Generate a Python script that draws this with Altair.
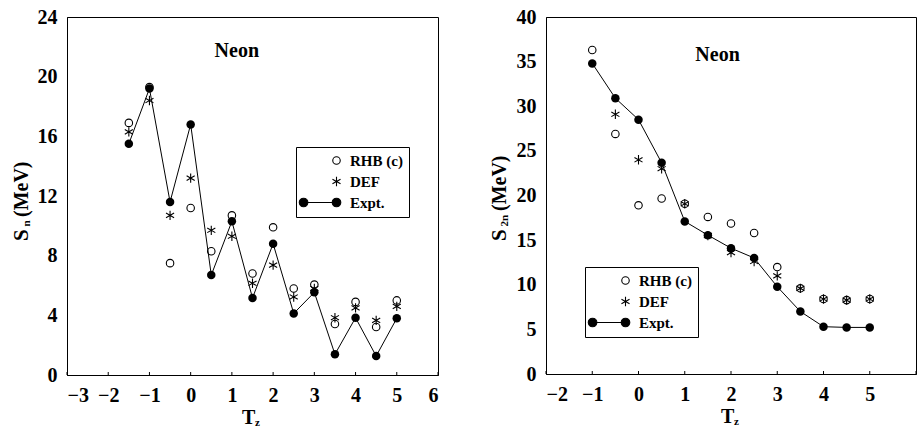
import altair as alt
import pandas as pd

FONT = "Liberation Serif"

# ---------------- data ----------------
SERIES = ["RHB (c)", "DEF", "Expt."]

tz_left = [-1.5, -1, -0.5, 0, 0.5, 1, 1.5, 2, 2.5, 3, 3.5, 4, 4.5, 5]
sn_rhb = [16.9, 19.3, 7.5, 11.2, 8.3, 10.7, 6.8, 9.9, 5.8, 6.06, 3.42, 4.9, 3.22, 5.0]
sn_def = [16.3, 18.4, 10.7, 13.2, 9.7, 9.3, 6.15, 7.37, 5.23, 5.8, 3.84, 4.5, 3.66, 4.6]
sn_exp = [15.5, 19.2, 11.6, 16.8, 6.7, 10.3, 5.16, 8.8, 4.13, 5.54, 1.39, 3.84, 1.27, 3.8]

tz_right = [-1, -0.5, 0, 0.5, 1, 1.5, 2, 2.5, 3, 3.5, 4, 4.5, 5]
s2n_rhb = [36.3, 26.9, 18.9, 19.66, 19.07, 17.6, 16.87, 15.8, 11.98, 9.6, 8.4, 8.28, 8.4]
s2n_def = [None, 29.1, 24.0, 23.0, 19.07, 15.5, 13.6, 12.6, 11.0, 9.6, 8.4, 8.28, 8.4]
s2n_exp = [34.8, 30.9, 28.5, 23.66, 17.1, 15.56, 14.1, 13.0, 9.78, 7.0, 5.3, 5.22, 5.22]

left_xticks = [-3, -2, -1, 0, 1, 2, 3, 4, 5, 6]
left_yticks = [0, 4, 8, 12, 16, 20, 24]
right_xticks = [-2, -1, 0, 1, 2, 3, 4, 5, 6]
right_xlabels = [-2, -1, 0, 1, 2, 3, 4, 5]
right_yticks = [0, 5, 10, 15, 20, 25, 30, 35, 40]

# ---------------- symbols ----------------
STAR = "M0,-1.25L0,1.25M-1.08,-0.625L1.08,0.625M-1.08,0.625L1.08,-0.625"
EXPT_LEG = ("M-8.8,0L0,0"
            "M1.15,0A1.15,1.15,0,1,1,-1.15,0A1.15,1.15,0,1,1,1.15,0Z"
            "M-7.65,0A1.15,1.15,0,1,1,-9.95,0A1.15,1.15,0,1,1,-7.65,0Z")


def long_df(t, rhb, dfv, exp):
    rows = []
    for s, vals in zip(SERIES, (rhb, dfv, exp)):
        for ti, vi in zip(t, vals):
            if vi is not None:
                rows.append({"T": ti, "v": vi, "series": s})
    return pd.DataFrame(rows)


def txt(s, x, y, size, angle=0):
    return alt.Chart(pd.DataFrame({"s": [s]})).mark_text(
        align="left", baseline="alphabetic", font=FONT, fontSize=size,
        fontWeight="bold", color="black", angle=angle
    ).encode(x=alt.value(x), y=alt.value(y), text="s:N")


def panel(t, rhb, dfv, exp, xdom, xticks, xlabels, ydom, yticks, w, h,
          neon, legxy, ysub):
    df = long_df(t, rhb, dfv, exp)
    dexp = pd.DataFrame({"T": t, "v": exp})
    xs = alt.Scale(domain=xdom, nice=False, zero=False)
    ys = alt.Scale(domain=ydom, nice=False, zero=False)
    xax = alt.Axis(values=xlabels, format="d", labelPadding=10)
    yax = alt.Axis(values=yticks, format="d", labelPadding=10)
    leg = alt.Legend(
        orient="none", legendX=legxy[0], legendY=legxy[1], title=None,
        strokeColor="black", fillColor="white", padding=6, rowPadding=5,
        labelFont=FONT, labelFontSize=15, labelFontWeight="bold",
        labelColor="black", labelOffset=6, symbolOffset=27,
        symbolFillColor="white",
        symbolStrokeColor="black", symbolStrokeWidth=1.1, symbolSize=56,
    )
    pts = alt.Chart(df).mark_point(size=56, stroke="black", strokeWidth=1.1).encode(
        x=alt.X("T:Q", scale=xs, axis=xax, title=None),
        y=alt.Y("v:Q", scale=ys, axis=yax, title=None),
        shape=alt.Shape("series:N", sort=SERIES,
                        scale=alt.Scale(domain=SERIES, range=["circle", STAR, EXPT_LEG]),
                        legend=leg),
        fill=alt.Fill("series:N", sort=SERIES,
                      scale=alt.Scale(domain=SERIES, range=["transparent", "transparent", "black"]),
                      legend=leg),
        opacity=alt.condition(alt.datum.series == "Expt.", alt.value(0), alt.value(1)),
    )
    line = alt.Chart(dexp).mark_line(color="black", strokeWidth=1).encode(
        x=alt.X("T:Q", scale=xs), y=alt.Y("v:Q", scale=ys))
    dots = alt.Chart(dexp).mark_circle(size=72, color="black", opacity=1).encode(
        x=alt.X("T:Q", scale=xs), y=alt.Y("v:Q", scale=ys))
    ticks = alt.Chart(pd.DataFrame({"T": xticks})).mark_rule(color="black", strokeWidth=1).encode(
        x=alt.X("T:Q", scale=xs), y=alt.value(h), y2=alt.value(h - 3))
    neon_t = alt.Chart(pd.DataFrame({"T": [neon[0]], "v": [neon[1]], "s": ["Neon"]})).mark_text(
        align="center", baseline="middle", font=FONT, fontSize=20, fontWeight="bold", color="black"
    ).encode(x=alt.X("T:Q", scale=xs), y=alt.Y("v:Q", scale=ys), text="s:N")
    # axis titles with subscripts
    titles = [
        txt("T", 175, h + 49, 20),
        txt("z", 188, h + 51, 11),
        txt("S", ysub["sx"], 224, 21, 270),
        txt(ysub["sub"], ysub["sx"] + 1.5, 224 - 14.5, 11, 270),
        txt("(MeV)", ysub["sx"], ysub["mev_y"], 20, 270),
    ]
    return alt.layer(ticks, pts, line, dots, neon_t, *titles).properties(width=w, height=h)


left = panel(tz_left, sn_rhb, sn_def, sn_exp, [-3, 6], left_xticks, left_xticks,
             [0, 24], left_yticks, 371, 358, (1.12, 21.7), (229, 130),
             {"sx": -39, "sub": "n", "mev_y": 200})
right = panel(tz_right, s2n_rhb, s2n_def, s2n_exp, [-2, 6], right_xticks, right_xlabels,
              [0, 40], right_yticks, 370, 357, (1.71, 35.7), (39, 250),
              {"sx": -40, "sub": "2n", "mev_y": 194})

chart = alt.hconcat(left, right, spacing=49, background="white").resolve_scale(
    x="independent", y="independent", shape="independent", fill="independent"
).resolve_legend(shape="independent", fill="independent").properties(
    padding={"left": 10, "top": 6, "right": 0, "bottom": 0}
).configure_view(stroke="black", strokeWidth=1).configure_axis(
    labelFont=FONT, labelFontSize=20, labelFontWeight="bold", labelColor="black",
    domainColor="black", domainWidth=1, ticks=False, grid=False, titleFont=FONT
)

chart.save("out.html", embed_options={"renderer": "svg", "actions": False})
